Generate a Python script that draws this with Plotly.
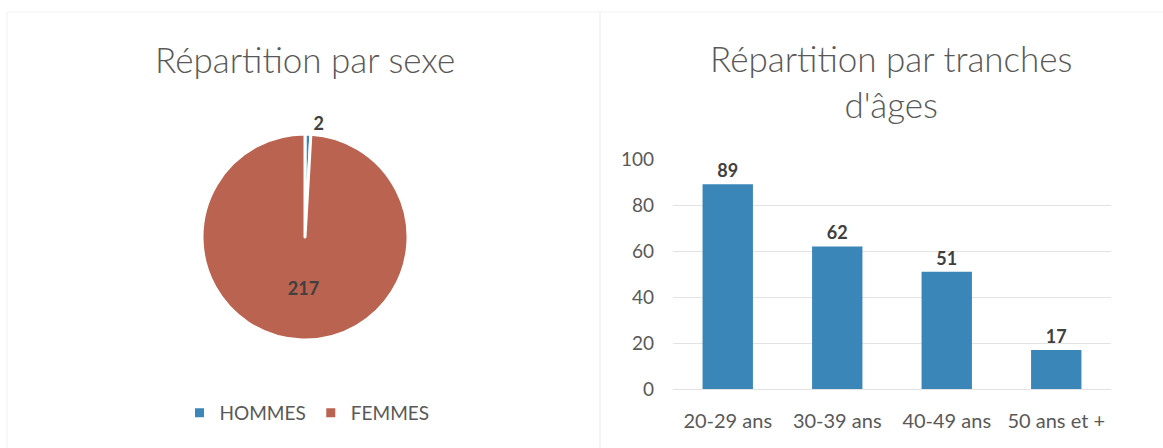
import plotly.graph_objects as go

# ---- data ----
sex_labels = ["HOMMES", "FEMMES"]
sex_values = [2, 217]
sex_colors = ["#3C87BA", "#BA6350"]

age_categories = ["20-29 ans", "30-39 ans", "40-49 ans", "50 ans et +"]
age_values = [89, 62, 51, 17]
bar_color = "#3A86B8"

left_title = "Répartition par sexe"
right_title = "Répartition par tranches<br>d'âges"

W, H = 1163, 448
FONT = "Lato"
GREY = "#595959"
DARK = "#404040"

def px_x(x):
    return x / W

def px_y(y):
    return 1 - y / H

fig = go.Figure()

fig.add_trace(go.Pie(
    labels=sex_labels,
    values=sex_values,
    sort=False,
    direction="clockwise",
    rotation=0,
    marker=dict(colors=sex_colors, line=dict(color="white", width=3)),
    textinfo="value",
    textposition=["outside", "inside"],
    insidetextorientation="horizontal",
    textfont=dict(family=FONT, size=18, color=DARK, weight="bold"),
    outsidetextfont=dict(family=FONT, size=18, color=DARK, weight="bold"),
    insidetextfont=dict(family=FONT, size=18, color=DARK, weight="bold"),
    domain=dict(x=[px_x(202), px_x(408)], y=[px_y(341), px_y(133)]),
    hole=0,
    showlegend=True,
))

fig.add_trace(go.Bar(
    x=age_categories,
    y=age_values,
    marker=dict(color=bar_color),
    text=age_values,
    textposition="outside",
    textfont=dict(family=FONT, size=18, color=DARK, weight="bold"),
    cliponaxis=False,
    showlegend=False,
    xaxis="x", yaxis="y",
    width=0.46,
))

fig.update_layout(
    template="none",
    width=W, height=H,
    margin=dict(l=0, r=0, t=0, b=0, autoexpand=False),
    paper_bgcolor="white",
    plot_bgcolor="white",
    font=dict(family=FONT, color=GREY),
    xaxis=dict(
        domain=[px_x(673), px_x(1111)],
        anchor="y",
        automargin=False,
        showgrid=False, showline=False, zeroline=False,
        ticks="",
        tickfont=dict(family=FONT, size=20, color=GREY),
        ticklabelstandoff=18,
    ),
    yaxis=dict(
        domain=[px_y(389), px_y(159)],
        anchor="x",
        automargin=False,
        range=[0, 100],
        dtick=20,
        ticks="",
        showgrid=True, gridcolor="#e3e3e3", gridwidth=1,
        zeroline=True, zerolinecolor="#e3e3e3", zerolinewidth=1,
        showline=False,
        tickfont=dict(family=FONT, size=19, color=GREY),
        ticklabelstandoff=18,
    ),
    legend=dict(
        orientation="h",
        x=px_x(307), xanchor="center",
        y=px_y(413), yanchor="middle",
        font=dict(family=FONT, size=19, color=GREY),
        itemwidth=30,
        bgcolor="rgba(0,0,0,0)",
    ),
    annotations=[
        dict(text=left_title, x=px_x(305), y=px_y(59), xref="paper", yref="paper",
             showarrow=False, xanchor="center", yanchor="middle",
             font=dict(family=FONT, size=35, color=GREY, weight=300)),
        dict(text=right_title, x=px_x(891), y=px_y(81), xref="paper", yref="paper",
             showarrow=False, xanchor="center", yanchor="middle",
             font=dict(family=FONT, size=35, color=GREY, weight=300)),
    ],
    shapes=[
        dict(type="line", xref="paper", yref="paper",
             x0=px_x(600), x1=px_x(600), y0=0, y1=px_y(12),
             line=dict(color="#ebebeb", width=1)),
        dict(type="line", xref="paper", yref="paper",
             x0=px_x(7), x1=px_x(7), y0=0, y1=px_y(12),
             line=dict(color="#f0f0f0", width=1)),
        dict(type="line", xref="paper", yref="paper",
             x0=px_x(7), x1=px_x(1163), y0=px_y(12), y1=px_y(12),
             line=dict(color="#f3f3f3", width=1)),
    ],
)

fig.write_html(
    "out.html",
    config={"displayModeBar": False},
    post_script="document.body.style.margin='0';document.body.style.overflow='hidden';",
)
